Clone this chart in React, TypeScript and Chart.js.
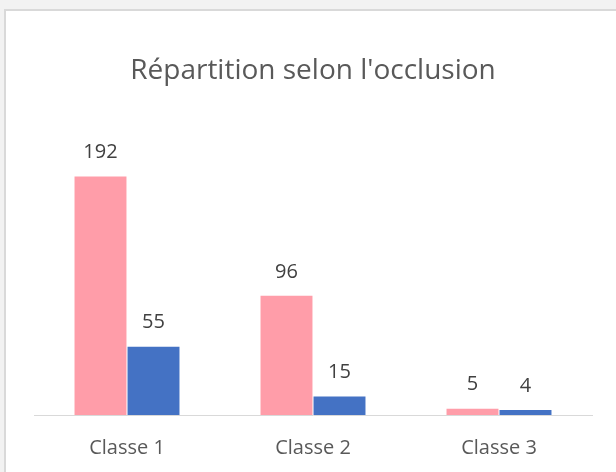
import React, { useEffect, useRef } from "react";
import { Chart, registerables } from "chart.js";

Chart.register(...registerables);

const categories = ["Classe 1", "Classe 2", "Classe 3"];
const seriesA = [192, 96, 5];
const seriesB = [55, 15, 4];
const titleText = "Répartition selon l'occlusion";

const FONT = "'Open Sans', sans-serif";

const labelPlugin = {
  id: "valueLabels",
  afterDatasetsDraw(chart: any) {
    const ctx = chart.ctx;
    ctx.save();
    ctx.font = `20px ${FONT}`;
    ctx.fillStyle = "#404040";
    ctx.textAlign = "center";
    ctx.textBaseline = "middle";
    chart.data.datasets.forEach((ds: any, i: number) => {
      const meta = chart.getDatasetMeta(i);
      meta.data.forEach((bar: any, j: number) => {
        ctx.fillText(String(ds.data[j]), bar.x, bar.y - 24);
      });
    });
    ctx.restore();
  },
};

export default function App() {
  const ref = useRef<HTMLCanvasElement>(null);
  useEffect(() => {
    const chart = new Chart(ref.current!, {
      type: "bar",
      data: {
        labels: categories,
        datasets: [
          { label: "A", data: seriesA, backgroundColor: "#FF9DA9", borderWidth: 0 },
          { label: "B", data: seriesB, backgroundColor: "#4472C4", borderWidth: 0 },
        ],
      },
      options: {
        animation: false,
        responsive: false,
        layout: { padding: { left: 34, right: 24, top: 0, bottom: 14 } },
        datasets: { bar: { categoryPercentage: 0.57, barPercentage: 0.98 } },
        plugins: {
          legend: { display: false },
          tooltip: { enabled: false },
          title: {
            display: true,
            text: titleText,
            color: "#595959",
            font: { family: FONT, size: 28, weight: "normal" },
            padding: { top: 54, bottom: 17 },
          },
        },
        scales: {
          x: {
            grid: { display: false, drawTicks: false },
            border: { display: true, color: "#d9d9d9", width: 1 },
            ticks: { color: "#595959", font: { family: FONT, size: 20 }, padding: 21 },
          },
          y: { display: false, min: 0, max: 250 },
        },
      } as any,
      plugins: [labelPlugin],
    });
    return () => chart.destroy();
  }, []);
  return (
    <div style={{ position: "fixed", left: 0, top: 0, width: 616, height: 472, background: "#f2f2f2", overflow: "hidden" }}>
      <div style={{ position: "absolute", left: 4, top: 9, width: 620, height: 470, background: "#fff", borderLeft: "2px solid #d9d9d9", borderTop: "2px solid #d9d9d9" }} />
      <canvas ref={ref} width={616} height={495} style={{ position: "absolute", left: 0, top: 0 }} />
    </div>
  );
}
